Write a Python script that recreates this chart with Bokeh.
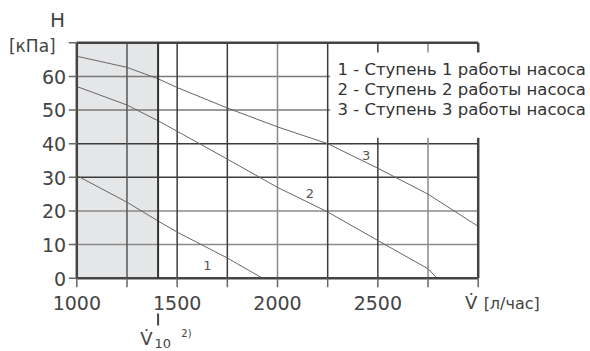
from bokeh.plotting import figure
from bokeh.models import Range1d
from bokeh.core.properties import value
from bokeh.embed import file_html
from bokeh.resources import INLINE

# ---- data ----
curve1_x = [1000, 1250, 1405, 1500, 1750, 1925]
curve1_y = [30.5, 22.6, 17.0, 13.7, 6.0, 0.0]

curve2_x = [1000, 1250, 1405, 1500, 1750, 2000, 2250, 2500, 2750, 2795]
curve2_y = [57.0, 51.5, 46.8, 43.7, 35.4, 27.0, 19.7, 11.2, 2.8, 0.0]

curve3_x = [1000, 1250, 1405, 1500, 1750, 2000, 2250, 2500, 2750, 3000]
curve3_y = [66.0, 62.7, 59.3, 56.7, 50.6, 45.0, 40.0, 32.7, 25.0, 15.4]

curve_labels = ["1", "2", "3"]
curve_label_x = [1651, 2161, 2442]
curve_label_y = [3.8, 25.3, 36.5]

legend_lines = ["1 - Ступень 1 работы насоса",
                "2 - Ступень 2 работы насоса",
                "3 - Ступень 3 работы насоса"]

x_ticks = [1000, 1250, 1500, 1750, 2000, 2250, 2500, 2750, 3000]
x_label_ticks = [1000, 1500, 2000, 2500]
x_label_text = ["1000", "1500", "2000", "2500"]
y_ticks = [0, 10, 20, 30, 40, 50, 60, 70]
y_label_ticks = [0, 10, 20, 30, 40, 50, 60]
y_label_text = ["0", "10", "20", "30", "40", "50", "60"]

h_grid = [10, 20, 30, 40, 50, 60]
v_grid = [1250, 1500, 1750, 2000, 2250, 2500, 2750]

x_min, x_max = 1000, 3000
y_min, y_max = 0, 70
v10 = 1405  # V10 boundary of shaded zone

FONT = "DejaVu Sans"
TXT = "#444444"

# data units per pixel (for small offsets)
dx = 1 / 0.2007
dy = 1 / 3.3627

p = figure(width=590, height=351, output_backend="svg", toolbar_location=None,
           x_range=Range1d(619.8, 3559.5), y_range=Range1d(-21.80, 82.58),
           x_axis_type=None, y_axis_type=None,
           min_border=0, min_border_left=0, min_border_right=0,
           min_border_top=0, min_border_bottom=0)
p.outline_line_color = None
p.background_fill_color = "white"
p.border_fill_color = "white"

# shaded region
p.quad(left=[x_min], right=[v10], bottom=[y_min], top=[y_max],
       fill_color="#e5e6e8", line_color=None)

# grid lines
h_col = ["#8a8a8a", "#8a8a8a", "#3c3c3c", "#3c3c3c", "#7a7a7a", "#7a7a7a"]
p.segment(x0=[x_min] * len(h_grid), x1=[x_max] * len(h_grid), y0=h_grid, y1=h_grid,
          line_color=h_col, line_width=1.5)
v_col = ["#555555", "#3c3c3c", "#3c3c3c", "#8a8a8a", "#3c3c3c", "#3c3c3c", "#8a8a8a"]
p.segment(x0=v_grid, x1=v_grid, y0=[y_min] * len(v_grid), y1=[y_max] * len(v_grid),
          line_color=v_col, line_width=1.5)

# curves
for xs, ys in ((curve1_x, curve1_y), (curve2_x, curve2_y), (curve3_x, curve3_y)):
    p.line(xs, ys, line_color="#666666", line_width=1)

# frame border
p.segment(x0=[x_min, x_max, x_min, x_min], x1=[x_min, x_max, x_max, x_max],
          y0=[y_min, y_min, y_min, y_max], y1=[y_max, y_max, y_min, y_max],
          line_color="#444444", line_width=2.5)
p.segment(x0=[v10], x1=[v10], y0=[y_min], y1=[y_max], line_color="#333333", line_width=2)

# tick marks
p.segment(x0=x_ticks, x1=x_ticks, y0=[y_min] * len(x_ticks),
          y1=[y_min - 9 * dy] * len(x_ticks), line_color="#666666", line_width=1.5)
p.segment(x0=[x_min] * len(y_ticks), x1=[x_min - 8 * dx] * len(y_ticks),
          y0=y_ticks, y1=y_ticks, line_color="#666666", line_width=1.5)

# tick labels (vertically centred)
p.text(x=x_label_ticks, y=[y_min - 25.3 * dy] * len(x_label_ticks), text=x_label_text,
       text_font=value(FONT), text_font_size="19px", text_color=TXT,
       text_align="center", text_baseline="middle")
p.text(x=[x_min - 10.6 * dx] * len(y_label_ticks), y=[t - 0.4 * dy for t in y_label_ticks],
       text=y_label_text, text_font=value(FONT), text_font_size="19px", text_color=TXT,
       text_align="right", text_baseline="middle")

# white box behind legend
p.quad(left=[2262], right=[3015], bottom=[41.8], top=[67.1],
       fill_color="white", line_color=None)

# curve labels
p.text(x=curve_label_x, y=curve_label_y, text=curve_labels,
       text_font=value(FONT), text_font_size="13px", text_color="#555555",
       text_align="center", text_baseline="middle")

# legend text
leg_x = [2299] * 3
leg_y = [(277.7 - c) * dy for c in (69.5, 89.5, 109.5)]
p.text(x=leg_x, y=leg_y, text=legend_lines, text_font=value(FONT),
       text_font_size="16.5px", text_color="#333333",
       text_align="left", text_baseline="middle")

# axis titles
p.text(x=[903.8], y=[(277.7 - 19.5) * dy], text=["H"], text_font=value(FONT),
       text_font_size="20px", text_color=TXT, text_align="center", text_baseline="middle")
p.text(x=[662], y=[(277.7 - 46) * dy], text=["[кПа]"], text_font=value(FONT),
       text_font_size="17px", text_color=TXT, text_align="left", text_baseline="middle")
p.text(x=[2965], y=[(277.7 - 302) * dy], text=["V\u0307"], text_font=value(FONT),
       text_font_size="18px", text_color=TXT, text_align="center", text_baseline="middle")
p.text(x=[3027], y=[(277.7 - 303.5) * dy], text=["[л/час]"], text_font=value(FONT),
       text_font_size="16px", text_color=TXT, text_align="left", text_baseline="middle")

# V10 marker
p.segment(x0=[v10], x1=[v10], y0=[-10.5], y1=[-14.1], line_color="#444444", line_width=2)
p.text(x=[1347], y=[(277.7 - 338) * dy], text=["V\u0307"], text_font=value(FONT),
       text_font_size="18px", text_color=TXT, text_align="center", text_baseline="middle")
p.text(x=[1387], y=[(277.7 - 343) * dy], text=["10"], text_font=value(FONT),
       text_font_size="13px", text_color=TXT, text_align="left", text_baseline="middle")
p.text(x=[1521], y=[(277.7 - 333) * dy], text=["2)"], text_font=value(FONT),
       text_font_size="10px", text_color=TXT, text_align="left", text_baseline="middle")

open("out.html", "w").write(file_html(p, INLINE))
